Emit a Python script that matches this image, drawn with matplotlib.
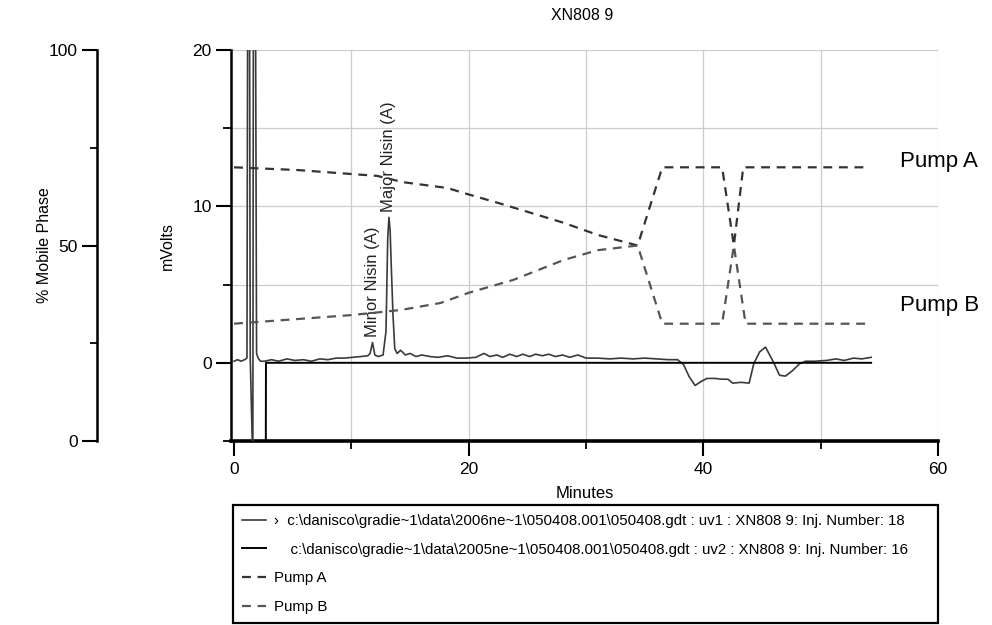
import matplotlib
matplotlib.use("Agg")
import matplotlib.pyplot as plt
from matplotlib.ticker import FixedLocator

plt.rcParams['font.family'] = ['Liberation Sans', 'DejaVu Sans']

# ---------------- data ----------------
title = "XN808 9"

uv1_t = [0.0, 0.3, 0.6, 0.9, 1.1, 1.18, 1.3, 1.38, 1.6, 1.66, 1.8, 1.92, 2.05, 2.25,
         2.6, 3.2, 3.8, 4.5, 5.2, 5.9, 6.6, 7.3, 8.0, 8.7, 9.4, 10.1, 10.8, 11.4,
         11.6, 11.8, 12.0, 12.3, 12.7, 12.95, 13.1, 13.2, 13.3, 13.4, 13.55, 13.7,
         13.9, 14.2, 14.6, 15.0, 15.5, 16.0, 16.7, 17.4, 18.2, 19.0, 19.8, 20.6,
         21.3, 21.8, 22.4, 22.9, 23.5, 24.1, 24.6, 25.2, 25.7, 26.3, 26.8, 27.4,
         28.0, 28.6, 29.3, 30.0, 31.0, 32.0, 33.0, 34.0, 35.0, 36.0, 37.0, 37.8,
         38.3, 38.8, 39.3, 39.8, 40.3, 41.0, 41.6, 42.1, 42.5, 43.2, 43.9, 44.3,
         44.8, 45.3, 45.9, 46.5, 47.0, 47.6, 48.2, 48.7, 49.5, 50.5, 51.3, 52.0,
         52.8, 53.5, 54.3]
uv1_mv = [0.1, 0.2, 0.1, 0.2, 0.3, 30, 30, 0.3, -6.5, 30, 30, 0.6, 0.3, 0.1,
          0.1, 0.2, 0.1, 0.25, 0.15, 0.2, 0.1, 0.25, 0.2, 0.3, 0.3, 0.35, 0.4, 0.45,
          0.6, 1.3, 0.5, 0.4, 0.5, 2.0, 8.0, 9.3, 8.5, 6.2, 3.0, 0.9,
          0.6, 0.8, 0.5, 0.6, 0.4, 0.5, 0.4, 0.35, 0.45, 0.3, 0.3, 0.35,
          0.6, 0.4, 0.5, 0.35, 0.55, 0.4, 0.55, 0.4, 0.55, 0.45, 0.55, 0.4,
          0.5, 0.35, 0.5, 0.3, 0.3, 0.25, 0.3, 0.25, 0.3, 0.25, 0.2, 0.2,
          -0.1, -0.9, -1.45, -1.2, -1.0, -1.0, -1.05, -1.05, -1.3, -1.25, -1.3, -0.05,
          0.7, 1.0, 0.15, -0.8, -0.85, -0.5, -0.06, 0.1, 0.1, 0.15, 0.25, 0.15,
          0.3, 0.25, 0.35]

uv2_t = [0.0, 2.7, 2.72, 54.3]
uv2_mv = [-8, -8, 0.0, 0.0]

pumpA_t = [0.0, 5.4, 12.2, 14.4, 18.2, 19.6, 22.5, 28.1, 31.0, 34.4, 36.5, 41.6, 42.6, 43.4, 54.2]
pumpA_pct = [70, 69.3, 67.8, 66.2, 64.7, 63.4, 60.9, 55.8, 52.7, 50, 70, 70, 50, 70, 70]
pumpB_t = [0.0, 10.0, 14.2, 17.6, 20.0, 23.8, 28.1, 31.0, 34.4, 36.5, 41.6, 42.6, 43.6, 54.2]
pumpB_pct = [30, 32.2, 33.5, 35.3, 37.9, 41.2, 46.3, 48.8, 50, 30, 30, 50, 30, 30]

peak_names = ["Minor Nisin (A)", "Major Nisin (A)"]
peak_t = [11.8, 13.2]
peak_mv = [1.3, 9.3]

legend_labels = [
    "›  c:\\danisco\\gradie~1\\data\\2006ne~1\\050408.001\\050408.gdt : uv1 : XN808 9: Inj. Number: 18",
    "    c:\\danisco\\gradie~1\\data\\2005ne~1\\050408.001\\050408.gdt : uv2 : XN808 9: Inj. Number: 16",
    "Pump A",
    "Pump B",
]

# ---------------- figure ----------------
W, H = 992, 625
fig = plt.figure(figsize=(W / 100, H / 100), dpi=100)

L, R, T, B = 231, 938, 50, 441
ax = fig.add_axes([L / W, 1 - B / H, (R - L) / W, (B - T) / H])
ax.set_xlim(-0.26, 60)
ax.set_ylim(-5, 20)

# grid
for gy in [5, 10, 15, 20]:
    ax.plot([-0.26, 60], [gy, gy], color='#cccccc', lw=0.9, zorder=1)
for gx in [10, 20, 30, 40, 50, 60]:
    ax.axvline(gx, color='#cccccc', lw=0.9, zorder=1)

l1, = ax.plot(uv1_t, uv1_mv, color='#3a3a3a', lw=1.2, zorder=3)
l2, = ax.plot(uv2_t, uv2_mv, color='black', lw=1.4, zorder=3)

for name, t, v in zip(peak_names, peak_t, peak_mv):
    ax.text(t, v + 0.35, name, rotation=90, ha='center', va='bottom',
            fontsize=12, color='#222222', zorder=4)

for s in ['top', 'right']:
    ax.spines[s].set_visible(False)
ax.spines['left'].set_linewidth(1.8)
ax.spines['bottom'].set_linewidth(2.6)

ax.xaxis.set_major_locator(FixedLocator([0, 20, 40, 60]))
ax.xaxis.set_minor_locator(FixedLocator([10, 30, 50]))
ax.yaxis.set_major_locator(FixedLocator([0, 10, 20]))
ax.yaxis.set_minor_locator(FixedLocator([-5, 5, 15]))
ax.tick_params(axis='both', which='major', length=11, width=1.5, labelsize=12.5, pad=4)
ax.tick_params(axis='both', which='minor', length=6, width=1.3)
ax.tick_params(axis='y', which='major', pad=3)

ax.set_xlabel("Minutes", fontsize=12)
ax.xaxis.set_label_coords(0.5, -0.115)
ax.set_ylabel("mVolts", fontsize=11.5)
ax.yaxis.set_label_coords(-0.079, 0.5)

# pump axis (% mobile phase)
ax2 = ax.twinx()
ax2.set_ylim(0, 100)
pa, = ax2.plot(pumpA_t, pumpA_pct, color='#333333', lw=1.6, dashes=(4, 3), zorder=2)
pb, = ax2.plot(pumpB_t, pumpB_pct, color='#555555', lw=1.6, dashes=(4, 3), zorder=2)
for s in ['top', 'right', 'bottom']:
    ax2.spines[s].set_visible(False)
ax2.spines['left'].set_visible(True)
ax2.spines['left'].set_position(('axes', (97 - L) / (R - L)))
ax2.spines['left'].set_linewidth(1.8)
ax2.yaxis.tick_left()
ax2.yaxis.set_label_position('left')
ax2.yaxis.set_major_locator(FixedLocator([0, 50, 100]))
ax2.yaxis.set_minor_locator(FixedLocator([25, 75]))
ax2.tick_params(axis='y', which='major', length=11, width=1.5, labelsize=12.5, pad=3)
ax2.tick_params(axis='y', which='minor', length=5, width=1.3)
ax2.set_ylabel("% Mobile Phase", fontsize=11.5)
ax2.yaxis.set_label_coords((52 - L) / (R - L), 0.5)

# side labels
ax.text((900 - L) / (R - L), (B - 162) / (B - T), "Pump A", transform=ax.transAxes,
        fontsize=16, ha='left', va='center', clip_on=False)
ax.text((900 - L) / (R - L), (B - 305) / (B - T), "Pump B", transform=ax.transAxes,
        fontsize=16, ha='left', va='center', clip_on=False)

fig.text(582 / W, 1 - 15 / H, title, ha='center', va='center', fontsize=11.5)

leg = fig.legend([l1, l2, pa, pb], legend_labels, loc='upper left',
                 bbox_to_anchor=(233 / W, 1 - 505 / H, (938 - 233) / W, 0),
                 mode='expand', borderaxespad=0, frameon=True, fancybox=False,
                 edgecolor='black', framealpha=1, fontsize=10.8, handlelength=1.6,
                 handletextpad=0.5, labelspacing=0.98, borderpad=0.6)
leg.get_frame().set_linewidth(1.6)

fig.savefig("out.png", dpi=100)
